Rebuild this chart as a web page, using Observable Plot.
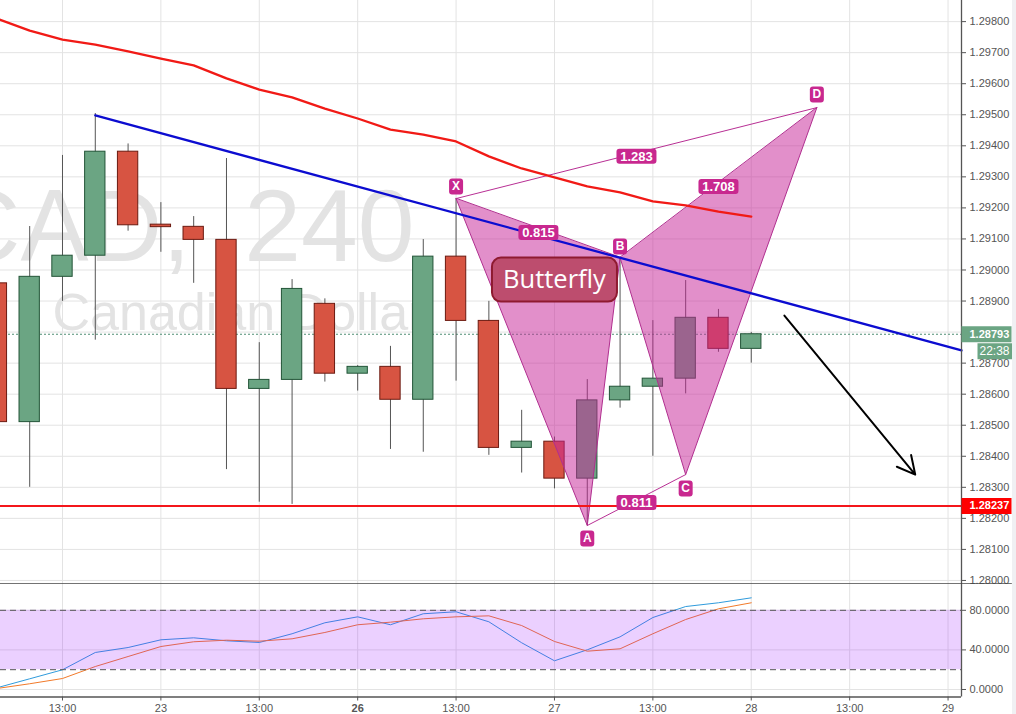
<!DOCTYPE html>
<html><head><meta charset="utf-8">
<script src="https://cdn.jsdelivr.net/npm/d3@7"></script>
<script src="https://cdn.jsdelivr.net/npm/@observablehq/plot@0.6"></script>
<style>
html,body{margin:0;padding:0;background:#f0f0f3;overflow:hidden}
#chart{width:1012px}
#chart svg{display:block;background:#fff}
</style></head><body><div id="chart"></div>
<script>
const barIndex = [-2,-1,0,1,2,3,4,5,6,7,8,9,10,11,12,13,14,15,16,17,18,19,20,21];
const opens  = [1.28957,1.28510,1.28978,1.29046,1.29381,1.29146,1.29139,1.29097,1.28617,1.28646,1.28891,1.28666,1.28688,1.28582,1.29043,1.28836,1.28427,1.28447,1.28328,1.28580,1.28624,1.28650,1.28846,1.28746];
const closes = [1.28510,1.28978,1.29046,1.29381,1.29144,1.29138,1.29097,1.28617,1.28646,1.28939,1.28666,1.28688,1.28582,1.29043,1.28836,1.28427,1.28447,1.28328,1.28580,1.28624,1.28650,1.28846,1.28746,1.28793];
const highs  = [1.29000,1.29140,1.29369,1.29504,1.29406,1.29217,1.29172,1.29359,1.28766,1.28969,1.28907,1.28692,1.28754,1.29098,1.29230,1.28899,1.28548,1.28462,1.28647,1.29037,1.28837,1.28966,1.28873,1.28799];
const lows   = [1.28480,1.28300,1.28899,1.28774,1.29125,1.29057,1.28957,1.28357,1.28252,1.28245,1.28639,1.28610,1.28422,1.28413,1.28642,1.28403,1.28346,1.28295,1.28177,1.28555,1.28400,1.28601,1.28735,1.28700];
const movingAverage = [1.29810,1.29771,1.29742,1.29726,1.29704,1.29681,1.29659,1.29617,1.29581,1.29556,1.29520,1.29488,1.29452,1.29436,1.29414,1.29366,1.29327,1.29298,1.29269,1.29250,1.29221,1.29208,1.29188,1.29172];
const trendIndex = [1,27.41];
const trendPrice = [1.29498,1.28741];
const patternNames = ["X","A","B","C","D"];
const patternIndex = [12,16,17,19,23];
const patternPrice = [1.29230,1.28177,1.29040,1.28341,1.29523];
const labelOffsets = [-12,13,-11,14,-13];
const ratioLabels = ["1.283","1.708","0.815","0.811"];
const ratioIndex = [17.5,20,14.51,17.5];
const ratioPrice = [1.29366,1.29269,1.29121,1.28251];
const lastPrice = 1.28793;
const supportPrice = 1.28237;
const priceTicks = d3.range(0,19).map(k => +(1.28 + k*0.001).toFixed(3));
const arrowFrom = {x:22.01,y:1.28853};
const arrowTo = {x:26,y:1.28341};
const calloutAt = {x:15,y:1.28969};

const dayTicks = [0,3,6,9,12,15,18,21,24,27];
const dayLabels = ["13:00","23","13:00","26","13:00","27","13:00","28","13:00","29"];
const rsiFast = [1.7,10.8,19.9,37.4,42.4,50.2,52.2,49.2,47.5,56.3,67.4,73.4,65.4,76.5,78.5,68.4,47.2,29,40.1,53.2,72.7,83.8,87.6,92.6];
const rsiSlow = [1,5.8,11.1,23.2,33.3,43.4,48.2,49.8,48.8,51.2,57.6,65.4,68,71.4,73.4,74.4,64.6,48.5,38.7,41.1,56.3,70.7,81.5,87.6];
const rsiTicks = [0,40,80];
const rsiBand = [20,80];

const xDomain = [-1.89,27.41];
const xRightEdge = 28.96;
const green="#6ba583", greenDark="#225437", red="#d75442", redDark="#6b1a10", axisColor="#555", gridColor="#e3e3e3";
const font='"Liberation Sans",Arial,sans-serif';

const candles = barIndex.map((i,k)=>({i,open:opens[k],close:closes[k],high:highs[k],low:lows[k],up:closes[k]>=opens[k]}));
const pts = patternNames.map((n,k)=>({n,i:patternIndex[k],p:patternPrice[k],o:labelOffsets[k]}));
const ratios = ratioLabels.map((t,k)=>({t,i:ratioIndex[k],p:ratioPrice[k]}));
const tri = [["a",0],["a",1],["a",2],["b",2],["b",3],["b",4]].map(([z,k])=>({z,i:patternIndex[k],p:patternPrice[k]}));
const thin = [["c",0],["c",4],["d",1],["d",3]].map(([z,k])=>({z,i:patternIndex[k],p:patternPrice[k]}));

const box = (w,h,r,left=false)=>({draw(c){
  const x0=left?0:-w/2,x1=x0+w,y0=-h/2,y1=h/2;
  if(r===0){c.moveTo(x0,y0);c.lineTo(x1,y0);c.lineTo(x1,y1);c.lineTo(x0,y1);c.closePath();return;}
  c.moveTo(x0+r,y0);c.lineTo(x1-r,y0);c.arcTo(x1,y0,x1,y0+r,r);c.lineTo(x1,y1-r);c.arcTo(x1,y1,x1-r,y1,r);
  c.lineTo(x0+r,y1);c.arcTo(x0,y1,x0,y1-r,r);c.lineTo(x0,y0+r);c.arcTo(x0,y0,x0+r,y0,r);c.closePath();
}});
const purple="#c8288f";
const tag = {x:"i",y:"p",r:1,fill:purple,stroke:"none"};
const halfBar=0.31;

const pricePane = Plot.plot({
  width:1012,height:584,marginTop:0,marginBottom:0,marginLeft:0,marginRight:51,
  style:{fontFamily:font,fontSize:"11px"},
  x:{domain:xDomain,axis:null},
  y:{domain:[1.29868,1.27987],range:[0,584],axis:null},
  marks:[
    Plot.ruleY(priceTicks,{stroke:gridColor}),
    Plot.ruleX(dayTicks,{stroke:gridColor}),
    Plot.text(["CAD,"],{frameAnchor:"top-left",dx:190,dy:187.6,textAnchor:"end",lineAnchor:"top",fontSize:102,fill:"#e3e3e3",fontFamily:font}),
    Plot.text(["240"],{frameAnchor:"top-left",dx:414,dy:187.6,textAnchor:"end",lineAnchor:"top",fontSize:102,fill:"#e3e3e3",fontFamily:font}),
    Plot.text(["Canadian Dollar"],{frameAnchor:"top-left",dx:52,dy:293,textAnchor:"start",lineAnchor:"top",fontSize:52,fill:"#e3e3e3",fontFamily:font}),
    Plot.ruleY([lastPrice],{stroke:"#4f8f74",strokeDasharray:"2,2"}),
    Plot.ruleX(candles,{x:"i",y1:"low",y2:"high",stroke:"#555"}),
    Plot.rect(candles,{x1:d=>d.i-halfBar,x2:d=>d.i+halfBar,y1:"open",y2:"close",fill:d=>d.up?green:red,stroke:d=>d.up?greenDark:redDark,strokeWidth:1}),
    Plot.line(tri,{x:"i",y:"p",z:"z",curve:"linear-closed",fill:"#c8289a",fillOpacity:0.52,stroke:"#b02f8f",strokeWidth:1}),
    Plot.line(thin,{x:"i",y:"p",z:"z",stroke:"#b82f94",strokeWidth:1}),
    Plot.line(barIndex.map((i,k)=>({i,p:movingAverage[k]})),{x:"i",y:"p",stroke:"#f11a16",strokeWidth:2.3}),
    Plot.line(trendIndex.map((i,k)=>({i,p:trendPrice[k]})),{x:"i",y:"p",stroke:"#0c0cd0",strokeWidth:2.3}),
    Plot.ruleY([supportPrice],{dy:-1,stroke:"#f4161b",strokeWidth:2}),
    Plot.arrow([0],{x1:()=>arrowFrom.x,y1:()=>arrowFrom.y,x2:()=>arrowTo.x,y2:()=>arrowTo.y,bend:0,stroke:"#000",strokeWidth:2,headLength:15,headAngle:55}),
    Plot.dot(ratios,{...tag,symbol:box(40,15,3)}),
    Plot.text(ratios,{x:"i",y:"p",text:"t",fill:"#fff",fontSize:13,fontWeight:700,fontFamily:font}),
    ...pts.map(d=>Plot.dot([d],{...tag,dy:d.o,symbol:box(14,16,3)})),
    ...pts.map(d=>Plot.text([d],{x:"i",y:"p",dy:d.o,text:"n",fill:"#fff",fontSize:12,fontWeight:700,fontFamily:font})),
    Plot.dot([calloutAt],{x:"x",y:"y",r:1,symbol:box(125,44,9),fill:"#bd4d6e",stroke:"#8e1a30",strokeWidth:2}),
    Plot.text(["Butterfly"],{x:()=>calloutAt.x,y:()=>calloutAt.y,fill:"#fff",fontSize:25.5,fontFamily:'"Open Sans",sans-serif'}),
    Plot.ruleX([xDomain[1]],{stroke:axisColor,strokeWidth:1.3}),
    Plot.axisY({anchor:"right",ticks:priceTicks.filter(t=>t!==1.288),tickFormat:d3.format(".5f"),tickSize:4,tickPadding:4,color:axisColor,label:null,fontSize:11}),
    Plot.dot([lastPrice],{x:()=>xDomain[1],y:d=>d,r:1,fill:green,stroke:"none",symbol:box(50,16,0,true)}),
    Plot.text([lastPrice],{x:()=>xDomain[1],y:d=>d,dx:8,textAnchor:"start",text:d=>d.toFixed(5),fill:"#fff",fontWeight:700,fontSize:11}),
    Plot.dot([lastPrice],{x:()=>xDomain[1],y:d=>d,dx:16,dy:17,r:1,fill:green,stroke:"none",symbol:box(35,16,0,true)}),
    Plot.text(["22:38"],{x:()=>xDomain[1],y:()=>lastPrice,dx:33,dy:17,fill:"#fff",fontSize:12}),
    Plot.dot([supportPrice],{x:()=>xDomain[1],y:d=>d,dy:-1,r:1,fill:"#ff0000",stroke:"none",symbol:box(50,16,0,true)}),
    Plot.text([supportPrice],{x:()=>xDomain[1],y:d=>d,dy:-1,dx:8,textAnchor:"start",text:d=>d.toFixed(5),fill:"#fff",fontWeight:700,fontSize:11}),
    Plot.ruleY([1.27989],{x1:()=>xDomain[0],x2:()=>xRightEdge,stroke:"#444",strokeWidth:1.3})
  ]
});

const rsiPane = Plot.plot({
  width:1012,height:130,marginTop:0,marginBottom:17.5,marginLeft:0,marginRight:51,
  style:{fontFamily:font,fontSize:"11px"},
  x:{domain:xDomain},
  y:{domain:[106.06,-7.58],range:[0,112.5],axis:null},
  marks:[
    Plot.ruleX(dayTicks,{stroke:gridColor}),
    Plot.ruleY(rsiTicks,{stroke:gridColor}),
    Plot.line(barIndex.map((i,k)=>({i,v:rsiFast[k]})),{x:"i",y:"v",stroke:"#2f9bdc",strokeWidth:1}),
    Plot.line(barIndex.map((i,k)=>({i,v:rsiSlow[k]})),{x:"i",y:"v",stroke:"#f27a2a",strokeWidth:1}),
    Plot.rect([rsiBand],{x1:()=>xDomain[0],x2:()=>xDomain[1],y1:d=>d[0],y2:d=>d[1],fill:"#9915ff",fillOpacity:0.2}),
    Plot.ruleY(rsiBand,{stroke:"#555",strokeDasharray:"6,4"}),
    Plot.ruleX([xDomain[1]],{stroke:axisColor,strokeWidth:1.3}),
    Plot.ruleY([-7.58],{stroke:axisColor,strokeWidth:1.3}),
    Plot.axisY({anchor:"right",ticks:rsiTicks,tickFormat:d3.format(".4f"),tickSize:4,tickPadding:4,color:axisColor,label:null,fontSize:11}),
    Plot.axisX({anchor:"bottom",ticks:dayTicks.filter(t=>t!==9),tickFormat:t=>dayLabels[dayTicks.indexOf(t)],tickSize:4,tickPadding:3,color:axisColor,label:null,fontSize:11}),
    Plot.axisX({anchor:"bottom",ticks:[9],tickFormat:t=>dayLabels[dayTicks.indexOf(t)],tickSize:4,tickPadding:3,color:axisColor,label:null,fontSize:11,fontWeight:700})
  ]
});
document.getElementById("chart").append(pricePane,rsiPane);
</script></body></html>
